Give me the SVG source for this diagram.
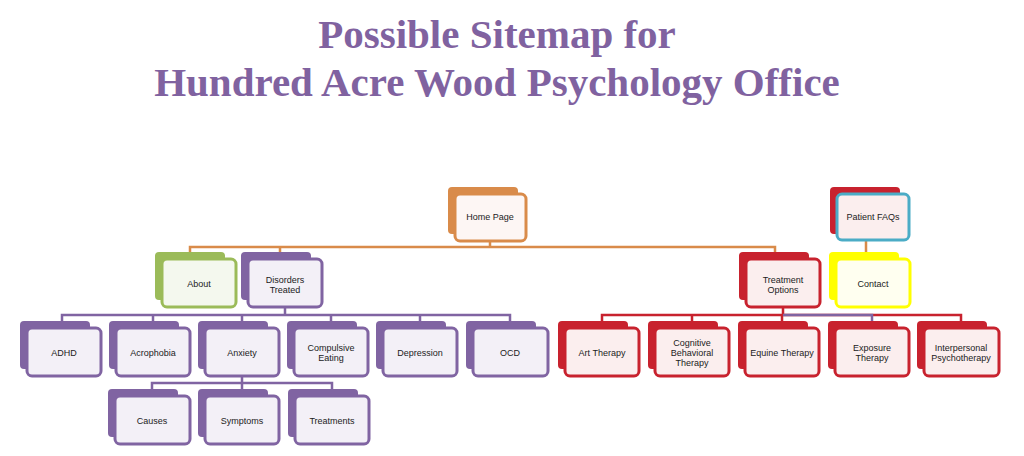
<svg xmlns="http://www.w3.org/2000/svg" width="1024" height="456" viewBox="0 0 1024 456">
<style>
.t{font-family:"Liberation Serif",serif;font-weight:bold;font-size:41px;fill:#8062a0;text-anchor:middle}
.l{font-family:"Liberation Sans",Arial,sans-serif;font-size:9px;fill:#222;text-anchor:middle}
.f{stroke-width:3}
.c{fill:none;stroke-width:2.5}
.o{stroke:#d98b4a}.g{stroke:#9bbb59}.p{stroke:#8064a2}.r{stroke:#c8222e}.b{stroke:#4bacc6}.y{stroke:#ffff00}
.bo{fill:#d98b4a}.bg{fill:#9bbb59}.bp{fill:#8064a2}.br{fill:#c8222e}.by{fill:#ffff00}
</style>
<rect width="1024" height="456" fill="#fff"/>
<text class="t" x="497" y="48">Possible Sitemap for</text>
<text class="t" x="497" y="96">Hundred Acre Wood Psychology Office</text>
<g id="connectors">
<path class="c o" d="M490 241V247M190 258V247H775V258M280 247V258M866 240V258"/>
<path class="c p" d="M285 307V315M62 327V315H510V327M153 315V327M242 315V327M331 315V327M420 315V327"/>
<path class="c r" d="M783 307V315M602 327V315H961V327M692 315V327M782 315V327"/>
<path class="c p" d="M783 315H872V327"/>
<path class="c p" d="M242 376V383M152 395V383H332V395M242 383V395"/>
</g>
<g id="home"><rect class="bo" x="448" y="187" width="70" height="47" rx="4"/><rect class="f o" x="455" y="194" width="71" height="47" rx="5" fill="#fdf6f4"/><text class="l" x="490" y="220">Home Page</text></g>
<g id="faqs"><rect class="br" x="830" y="187" width="70" height="47" rx="4"/><rect class="f b" x="837" y="194" width="72" height="46" rx="5" fill="#fbeeee"/><text class="l" x="873" y="220">Patient FAQs</text></g>
<g id="about"><rect class="bg" x="155" y="252" width="70" height="48" rx="4"/><rect class="f g" x="162" y="259" width="74" height="48" rx="5" fill="#f4f8ee"/><text class="l" x="199" y="287">About</text></g>
<g id="disorders"><rect class="bp" x="241" y="252" width="70" height="48" rx="4"/><rect class="f p" x="248" y="259" width="74" height="48" rx="5" fill="#f3f0f7"/><text class="l" x="285" y="283">Disorders</text><text class="l" x="285" y="293">Treated</text></g>
<g id="treatment"><rect class="br" x="739" y="252" width="70" height="48" rx="4"/><rect class="f r" x="746" y="259" width="74" height="48" rx="5" fill="#fbeeee"/><text class="l" x="783" y="283">Treatment</text><text class="l" x="783" y="293">Options</text></g>
<g id="contact"><rect class="by" x="829" y="252" width="70" height="48" rx="4"/><rect class="f y" x="836" y="259" width="74" height="48" rx="5" fill="#fffff0"/><text class="l" x="873" y="287">Contact</text></g>
<g id="adhd"><rect class="bp" x="20" y="321" width="70" height="48" rx="4"/><rect class="f p" x="27" y="328" width="74" height="48" rx="5" fill="#f3f0f7"/><text class="l" x="64" y="356">ADHD</text></g>
<g id="acrophobia"><rect class="bp" x="109" y="321" width="70" height="48" rx="4"/><rect class="f p" x="116" y="328" width="74" height="48" rx="5" fill="#f3f0f7"/><text class="l" x="153" y="356">Acrophobia</text></g>
<g id="anxiety"><rect class="bp" x="198" y="321" width="70" height="48" rx="4"/><rect class="f p" x="205" y="328" width="74" height="48" rx="5" fill="#f3f0f7"/><text class="l" x="242" y="356">Anxiety</text></g>
<g id="compulsive"><rect class="bp" x="287" y="321" width="70" height="48" rx="4"/><rect class="f p" x="294" y="328" width="74" height="48" rx="5" fill="#f3f0f7"/><text class="l" x="331" y="351">Compulsive</text><text class="l" x="331" y="361">Eating</text></g>
<g id="depression"><rect class="bp" x="376" y="321" width="70" height="48" rx="4"/><rect class="f p" x="383" y="328" width="74" height="48" rx="5" fill="#f3f0f7"/><text class="l" x="420" y="356">Depression</text></g>
<g id="ocd"><rect class="bp" x="466" y="321" width="70" height="48" rx="4"/><rect class="f p" x="473" y="328" width="75" height="48" rx="5" fill="#f3f0f7"/><text class="l" x="510" y="356">OCD</text></g>
<g id="art"><rect class="br" x="558" y="321" width="70" height="48" rx="4"/><rect class="f r" x="565" y="328" width="74" height="48" rx="5" fill="#fbeeee"/><text class="l" x="602" y="356">Art Therapy</text></g>
<g id="cbt"><rect class="br" x="648" y="321" width="70" height="48" rx="4"/><rect class="f r" x="655" y="328" width="74" height="48" rx="5" fill="#fbeeee"/><text class="l" x="692" y="346">Cognitive</text><text class="l" x="692" y="356">Behavioral</text><text class="l" x="692" y="366">Therapy</text></g>
<g id="equine"><rect class="br" x="738" y="321" width="70" height="48" rx="4"/><rect class="f r" x="745" y="328" width="74" height="48" rx="5" fill="#fbeeee"/><text class="l" x="782" y="356">Equine Therapy</text></g>
<g id="exposure"><rect class="br" x="828" y="321" width="70" height="48" rx="4"/><rect class="f r" x="835" y="328" width="74" height="48" rx="5" fill="#fbeeee"/><text class="l" x="872" y="351">Exposure</text><text class="l" x="872" y="361">Therapy</text></g>
<g id="interpersonal"><rect class="br" x="917" y="321" width="70" height="48" rx="4"/><rect class="f r" x="924" y="328" width="75" height="48" rx="5" fill="#fbeeee"/><text class="l" x="961" y="351">Interpersonal</text><text class="l" x="961" y="361">Psychotherapy</text></g>
<g id="causes"><rect class="bp" x="108" y="389" width="70" height="48" rx="4"/><rect class="f p" x="115" y="396" width="75" height="48" rx="5" fill="#f3f0f7"/><text class="l" x="152" y="424">Causes</text></g>
<g id="symptoms"><rect class="bp" x="198" y="389" width="70" height="48" rx="4"/><rect class="f p" x="205" y="396" width="74" height="48" rx="5" fill="#f3f0f7"/><text class="l" x="242" y="424">Symptoms</text></g>
<g id="treatments"><rect class="bp" x="288" y="389" width="70" height="48" rx="4"/><rect class="f p" x="295" y="396" width="74" height="48" rx="5" fill="#f3f0f7"/><text class="l" x="332" y="424">Treatments</text></g>
</svg>
